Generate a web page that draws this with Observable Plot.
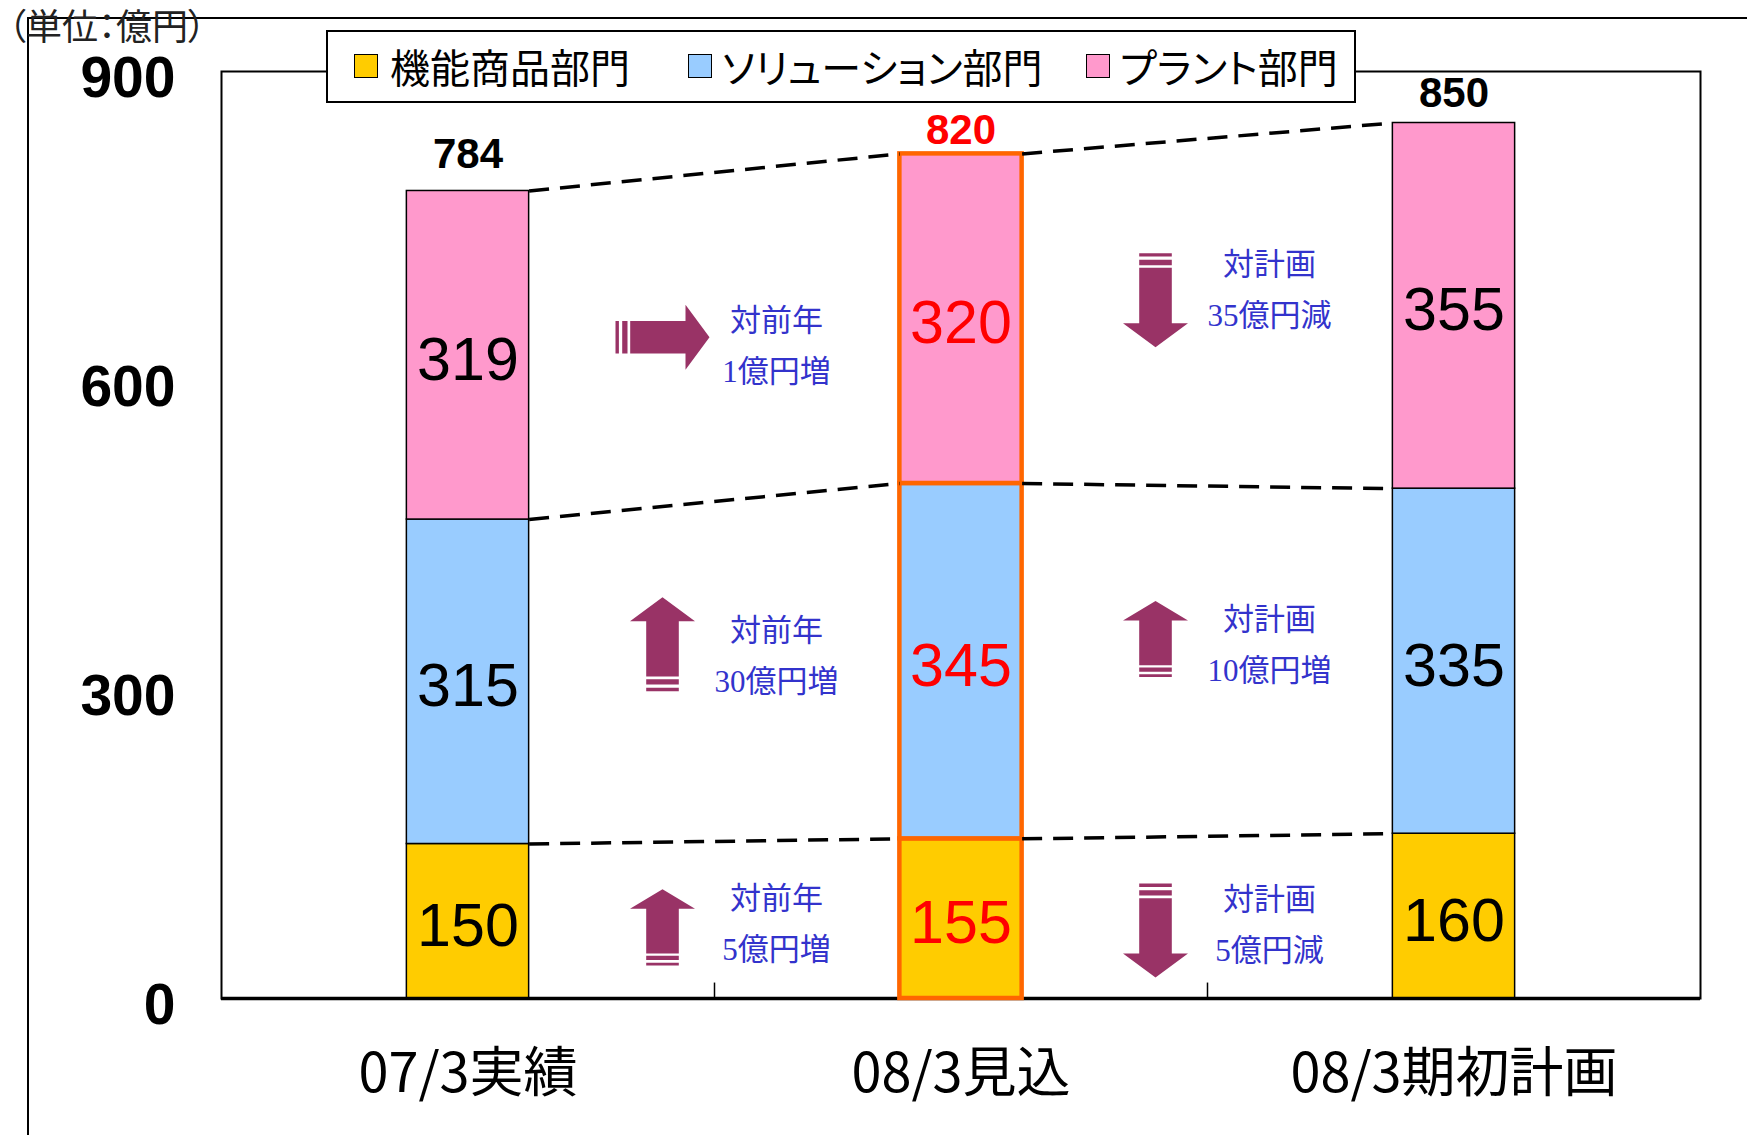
<!DOCTYPE html>
<html><head><meta charset="utf-8">
<script src="https://cdn.jsdelivr.net/npm/d3@7"></script>
<script src="https://cdn.jsdelivr.net/npm/@observablehq/plot@0.6"></script>
<style>
body{margin:0;background:#fff;}
#wrap{position:relative;width:1747px;height:1135px;overflow:hidden;font-family:"Noto Sans CJK JP",sans-serif;}
#slide{position:absolute;left:27px;top:17px;right:-5px;bottom:-5px;border-top:2px solid #000;border-left:2px solid #000;}
#unit{position:absolute;left:8px;top:4px;font-size:36px;line-height:40px;color:#222;font-feature-settings:"palt";white-space:nowrap;}
#legend{position:absolute;left:326px;top:30px;width:1026px;height:69px;border:2px solid #000;background:#fff;}
.sw{position:absolute;top:22px;width:22px;height:22px;border:1.5px solid #000;}
.lt{position:absolute;top:8px;font-size:40px;line-height:52px;color:#000;font-feature-settings:"palt";white-space:nowrap;}
</style></head><body><div id="wrap"><div id="slide"></div></div>
<script>
// ---- data ----
const categories = ["07/3実績", "08/3見込", "08/3期初計画"];
const segmentNames = ["機能商品部門", "ソリューション部門", "プラント部門"];
const kinou = [150, 155, 160];
const solution = [315, 345, 335];
const plant = [319, 320, 355];
const totals = [784, 820, 850];
const yTicks = [0, 300, 600, 900];
const unitLabel = "（単位：億円）";
// annotations: at = boundary between bars, ay = arrow level, ty = text level
const notes = [
  {at: 1, dir: "right", ay: 642, ty: 633, line1: "対前年", line2: "1億円増"},
  {at: 1, dir: "up",    ay: 344, ty: 332, line1: "対前年", line2: "30億円増"},
  {at: 1, dir: "up",    ay: 69,  ty: 72,  line1: "対前年", line2: "5億円増"},
  {at: 2, dir: "down",  ay: 678, ty: 688, line1: "対計画", line2: "35億円減"},
  {at: 2, dir: "up",    ay: 349, ty: 343, line1: "対計画", line2: "10億円増"},
  {at: 2, dir: "down",  ay: 66,  ty: 71,  line1: "対計画", line2: "5億円減"}
];

// ---- styles ----
const fills = ["#FFCC00", "#99CCFF", "#FF99CC"];
const hw = 0.124;
const arrowScale = [1, 1, 0.81, 1, 0.81, 1];
const totalDy = [-23, -10, -16];
const highlight = 1;

const series = [kinou, solution, plant];
const rows = [];
const cum = categories.map(() => []);
categories.forEach((c, i) => {
  let base = 0;
  series.forEach((s, j) => {
    rows.push({i, j, x1: i + 0.5 - hw, x2: i + 0.5 + hw, xc: i + 0.5, y1: base, y2: base + s[i], v: s[i]});
    base += s[i];
    cum[i].push(base);
  });
});
const links = [];
for (let i = 0; i < categories.length - 1; i++) {
  for (let j = 0; j < series.length; j++) {
    links.push({x1: i + 0.5 + hw, y1: cum[i][j], x2: i + 1.5 - hw, y2: cum[i + 1][j]});
  }
}

function arrowSymbol(dir, f) {
  const L = 94 * f, sw = 16.3, hh = 32.5;
  const stripes = [[0, 3.4 * f], [6.7 * f, 12 * f]];
  const s0 = 14.7 * f, h0 = L - 24 * f;
  const map = (t, w) => {
    const u = t - L / 2;
    if (dir === "up") return [w, -u];
    if (dir === "down") return [w, u];
    return [u, w];
  };
  return {
    draw(ctx) {
      const poly = (pts) => {
        pts.forEach(([t, w], k) => { const [x, y] = map(t, w); k ? ctx.lineTo(x, y) : ctx.moveTo(x, y); });
        ctx.closePath();
      };
      stripes.forEach(([a, b]) => poly([[a, -sw], [b, -sw], [b, sw], [a, sw]]));
      poly([[s0, -sw], [h0, -sw], [h0, -hh], [L, 0], [h0, hh], [h0, sw], [s0, sw]]);
    }
  };
}

const normalRows = rows.filter(d => d.i !== highlight);
const hiRows = rows.filter(d => d.i === highlight);

const plot = Plot.plot({
  width: 1747,
  height: 1135,
  marginLeft: 221,
  marginRight: 47,
  marginTop: 71,
  marginBottom: 137,
  style: {background: "transparent", fontFamily: "'Liberation Sans', Arial, sans-serif", overflow: "visible"},
  x: {domain: [0, 3], axis: null},
  y: {domain: [0, 900], axis: null},
  marks: [
    Plot.frame({stroke: "#000", strokeWidth: 2}),
    Plot.ruleX([1, 2], {y1: 0, y2: 15, stroke: "#000", strokeWidth: 1.5}),
    Plot.rect(normalRows, {x1: "x1", x2: "x2", y1: "y1", y2: "y2", fill: d => fills[d.j], stroke: "#000", strokeWidth: 1.5}),
    Plot.ruleY([0], {stroke: "#000", strokeWidth: 3.5}),
    Plot.rect(hiRows, {x1: "x1", x2: "x2", y1: "y1", y2: "y2", fill: d => fills[d.j], stroke: "#FF6600", strokeWidth: 4.5}),
    Plot.link(links, {x1: "x1", y1: "y1", x2: "x2", y2: "y2", stroke: "#000", strokeWidth: 3.5, strokeDasharray: "20,11"}),
    Plot.text(rows, {x: "xc", y: d => (d.y1 + d.y2) / 2, text: d => String(d.v), fontSize: 61, dy: 5,
      fill: d => d.i === highlight ? "#FF0000" : "#000", fontFamily: "'Liberation Sans', Arial, sans-serif"}),
    ...totals.map((t, i) => Plot.text([t], {x: () => i + 0.5, y: d => d, text: d => String(d), lineAnchor: "bottom",
      dy: totalDy[i], fontSize: 42, fontWeight: "bold", fill: i === highlight ? "#FF0000" : "#000"})),
    Plot.axisY({ticks: yTicks, tickSize: 0, tickPadding: 46, fontSize: 57, fontWeight: "bold", dy: 7, label: null, fill: "#000"}),
    Plot.text(categories, {x: (d, i) => i + 0.5, y: () => 0, text: d => d, dy: 76, fontSize: 54, fill: "#000",
      fontFamily: "'Noto Sans CJK JP', sans-serif"}),
    ...notes.map((n, k) => Plot.dot([n], {x: "at", y: "ay", symbol: arrowSymbol(n.dir, arrowScale[k]), r: 10,
      fill: "#993366", stroke: "none", dx: -52})),
    Plot.text(notes, {x: "at", y: "ty", text: d => d.line1 + "\n" + d.line2, dx: 62, dy: -6, fontSize: 31, lineHeight: 1.65,
      fill: "#3333CC", fontFamily: "'Liberation Serif', 'Noto Sans CJK JP', serif"})
  ]
});

const wrap = document.getElementById("wrap");
plot.style.position = "absolute";
plot.style.left = "0px";
plot.style.top = "0px";
wrap.appendChild(plot);

const unit = document.createElement("div");
unit.id = "unit";
unit.textContent = unitLabel;
wrap.appendChild(unit);

const legend = document.createElement("div");
legend.id = "legend";
const swLeft = [26, 360, 758];
const txLeft = [62, 394, 792];
segmentNames.forEach((name, j) => {
  const s = document.createElement("div");
  s.className = "sw";
  s.style.left = swLeft[j] + "px";
  s.style.background = fills[j];
  legend.appendChild(s);
  const t = document.createElement("div");
  t.className = "lt";
  t.style.left = txLeft[j] + "px";
  t.textContent = name;
  legend.appendChild(t);
});
wrap.appendChild(legend);
</script>
</body></html>
